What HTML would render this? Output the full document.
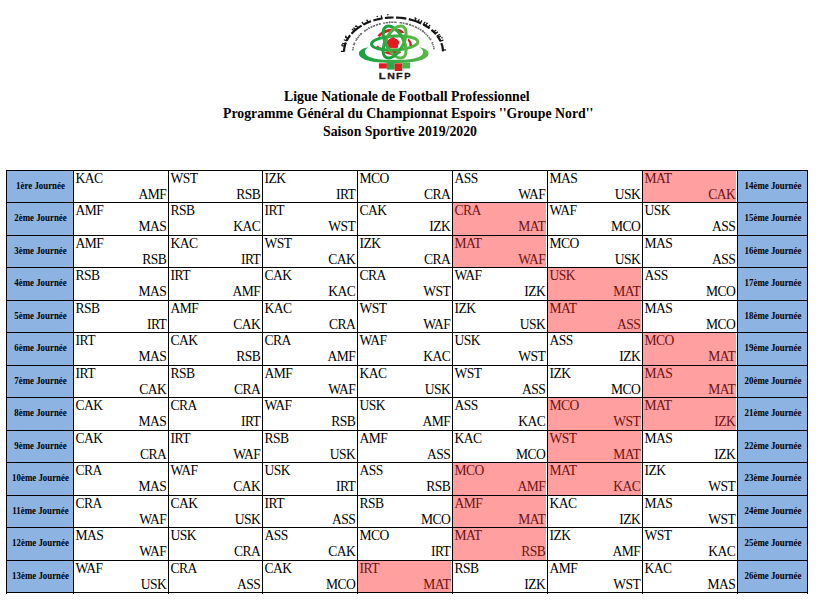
<!DOCTYPE html>
<html><head><meta charset="utf-8"><style>
html,body{margin:0;padding:0;background:#fff;}
body{width:831px;height:603px;position:relative;overflow:hidden;font-family:"Liberation Serif",serif;color:#000;}
.a{position:absolute;}
.t{position:absolute;white-space:nowrap;font-weight:bold;font-size:14.6px;line-height:0;transform:scaleX(0.945);transform-origin:0 0;}
.c{position:absolute;white-space:nowrap;font-size:13.55px;line-height:0;letter-spacing:-0.5px;}
.r{text-align:right;}
.l{position:absolute;white-space:nowrap;font-weight:bold;font-size:10px;line-height:0;text-align:center;transform:scaleX(0.885);}
.hl{position:absolute;height:1px;background:#000;}
.vl{position:absolute;width:1px;background:#000;}
.pk{background:#ff9f9f;}
.bl{background:#8db3e2;}
.pt{color:#6e1212;}
</style></head><body>
<svg class="a" style="left:335px;top:5px" width="120" height="80" viewBox="335 5 120 80">
<defs>
<linearGradient id="gr" x1="0" y1="0" x2="1" y2="0"><stop offset="0" stop-color="#13a03c"/><stop offset="1" stop-color="#5fb946"/></linearGradient>
<linearGradient id="gr2" x1="0" y1="0" x2="1" y2="0"><stop offset="0" stop-color="#17a040"/><stop offset="1" stop-color="#5cb648"/></linearGradient>
</defs>
<g fill="none" stroke="#151515" stroke-linecap="butt"><path d="M344.01,51.40 L344.07,50.11 L344.21,48.82 L344.42,47.54 L344.69,46.26 L345.03,45.00 L345.44,43.74 L345.92,42.49" stroke-width="2.2"/><path d="M344.51,51.41 L340.91,51.34" stroke-width="1.3"/><path d="M345.20,46.28 L341.65,45.68" stroke-width="1.3"/><path d="M345.79,44.24 L342.29,43.42" stroke-width="1.3"/><circle cx="342.06" cy="44.89" r="0.8" stroke="none" fill="#151515"/><path d="M346.70,40.77 L347.29,39.64 L347.94,38.52 L348.64,37.42 L349.40,36.34 L350.21,35.27" stroke-width="2.2"/><path d="M347.17,40.93 L343.77,39.76" stroke-width="1.3"/><path d="M348.45,38.63 L345.14,37.22" stroke-width="1.3"/><circle cx="345.86" cy="36.42" r="0.8" stroke="none" fill="#151515"/><path d="M351.52,33.72 L352.46,32.71 L353.45,31.72 L354.49,30.76 L355.58,29.82 L356.71,28.91 L357.89,28.03 L359.11,27.18 L360.38,26.36 L361.68,25.57" stroke-width="2.2"/><path d="M354.72,31.22 L351.87,29.02" stroke-width="1.3"/><path d="M356.19,29.96 L353.45,27.63" stroke-width="1.3"/><path d="M358.57,28.15 L356.01,25.63" stroke-width="1.3"/><circle cx="355.57" cy="26.20" r="0.8" stroke="none" fill="#151515"/><path d="M363.71,24.45 L365.11,23.74 L366.54,23.07 L368.01,22.43 L369.50,21.83 L371.03,21.26" stroke-width="2.2"/><path d="M364.01,24.85 L361.84,21.97" stroke-width="1.3"/><path d="M368.46,22.77 L366.62,19.68" stroke-width="1.3"/><path d="M373.37,20.48 L375.12,19.97 L376.90,19.50 L378.70,19.08 L380.52,18.71 L382.36,18.38" stroke-width="2.2"/><path d="M382.06,18.94 L381.22,15.44" stroke-width="1.3"/><circle cx="377.30" cy="16.43" r="0.8" stroke="none" fill="#151515"/><path d="M384.90,18.02 L386.61,17.84 L388.33,17.69 L390.05,17.58 L391.77,17.52 L393.50,17.50" stroke-width="2.2"/><circle cx="387.87" cy="14.82" r="0.8" stroke="none" fill="#151515"/><path d="M396.09,17.55 L397.81,17.63 L399.53,17.76 L401.24,17.92 L402.95,18.13 L404.64,18.38 L406.31,18.68" stroke-width="2.2"/><path d="M408.80,19.19 L410.43,19.58 L412.04,20.01 L413.63,20.48 L415.20,20.99 L416.74,21.54 L418.25,22.12 L419.73,22.74 L421.18,23.40" stroke-width="2.2"/><path d="M414.64,21.33 L416.19,18.08" stroke-width="1.3"/><path d="M417.55,22.38 L419.32,19.24" stroke-width="1.3"/><path d="M420.06,23.43 L422.01,20.40" stroke-width="1.3"/><circle cx="415.14" cy="17.94" r="0.8" stroke="none" fill="#151515"/><path d="M423.29,24.45 L424.65,25.19 L425.97,25.96 L427.26,26.77 L428.50,27.60 L429.70,28.47" stroke-width="2.2"/><path d="M422.99,24.85 L425.16,21.97" stroke-width="1.3"/><path d="M424.99,25.95 L427.31,23.19" stroke-width="1.3"/><path d="M427.68,27.64 L430.20,25.06" stroke-width="1.3"/><circle cx="426.97" cy="23.22" r="0.8" stroke="none" fill="#151515"/><path d="M431.42,29.82 L432.64,30.88 L433.80,31.97 L434.90,33.08 L435.93,34.23" stroke-width="2.2"/><path d="M433.26,32.12 L436.18,30.02" stroke-width="1.3"/><path d="M434.85,33.76 L437.89,31.83" stroke-width="1.3"/><path d="M437.21,35.80 L437.99,36.88 L438.72,37.97 L439.40,39.08 L440.01,40.20 L440.58,41.34" stroke-width="2.2"/><path d="M436.76,36.04 L439.94,34.35" stroke-width="1.3"/><path d="M437.86,37.55 L441.11,36.02" stroke-width="1.3"/><path d="M439.97,41.21 L443.38,40.07" stroke-width="1.3"/><circle cx="442.01" cy="37.86" r="0.8" stroke="none" fill="#151515"/><path d="M441.31,43.07 L441.73,44.24 L442.09,45.42 L442.39,46.60 L442.63,47.80 L442.81,48.99 L442.93,50.19 L442.99,51.40" stroke-width="2.2"/><path d="M442.42,50.10 L446.02,49.89" stroke-width="1.3"/></g>
<g fill="none" stroke="#6a6a6a"><path d="M352.86,50.45 L352.95,49.48 L353.08,48.51" stroke-width="1.5"/><path d="M353.16,48.04 L353.28,47.47 L353.40,46.91" stroke-width="1.5"/><path d="M353.84,45.31 L354.05,44.70 L354.27,44.10" stroke-width="1.5"/><path d="M354.53,44.83 L352.79,44.39" stroke-width="0.9"/><path d="M354.39,43.78 L354.59,43.28 L354.81,42.79" stroke-width="1.5"/><path d="M355.07,43.43 L353.35,42.90" stroke-width="0.9"/><path d="M355.71,40.97 L355.99,40.48 L356.27,39.99" stroke-width="1.5"/><path d="M356.48,39.65 L356.86,39.06 L357.26,38.48" stroke-width="1.5"/><path d="M357.31,39.28 L355.69,38.50" stroke-width="0.9"/><path d="M357.49,38.16 L358.12,37.32 L358.79,36.50" stroke-width="1.5"/><path d="M359.16,36.06 L359.58,35.59 L360.01,35.12" stroke-width="1.5"/><path d="M359.99,35.87 L358.49,34.87" stroke-width="0.9"/><path d="M360.34,34.78 L361.11,34.02 L361.91,33.27" stroke-width="1.5"/><path d="M361.51,34.32 L360.08,33.23" stroke-width="0.9"/><path d="M364.22,31.37 L364.99,30.81 L365.77,30.26" stroke-width="1.5"/><path d="M365.34,31.16 L364.08,29.88" stroke-width="0.9"/><path d="M366.10,30.04 L366.91,29.52 L367.74,29.01" stroke-width="1.5"/><path d="M368.38,28.63 L369.09,28.23 L369.81,27.85" stroke-width="1.5"/><path d="M369.39,28.63 L368.31,27.19" stroke-width="0.9"/><path d="M370.52,27.49 L371.43,27.05 L372.35,26.62" stroke-width="1.5"/><path d="M372.83,26.42 L373.95,25.95 L375.08,25.51" stroke-width="1.5"/><path d="M375.88,25.23 L377.05,24.83 L378.24,24.47" stroke-width="1.5"/><path d="M378.91,24.27 L379.81,24.03 L380.72,23.80" stroke-width="1.5"/><path d="M379.98,24.50 L379.37,22.81" stroke-width="0.9"/><path d="M383.15,23.28 L384.01,23.12 L384.89,22.97" stroke-width="1.5"/><path d="M385.55,22.87 L386.90,22.69 L388.27,22.55" stroke-width="1.5"/><path d="M388.89,22.49 L389.76,22.43 L390.62,22.37" stroke-width="1.5"/><path d="M389.80,22.92 L389.64,21.13" stroke-width="0.9"/><path d="M391.16,22.35 L392.32,22.31 L393.47,22.30" stroke-width="1.5"/><path d="M394.17,22.30 L395.34,22.33 L396.51,22.38" stroke-width="1.5"/><path d="M399.56,22.63 L400.90,22.80 L402.23,22.99" stroke-width="1.5"/><path d="M402.91,23.10 L403.72,23.25 L404.53,23.41" stroke-width="1.5"/><path d="M405.38,23.59 L406.71,23.91 L408.03,24.26" stroke-width="1.5"/><path d="M406.55,24.38 L407.13,22.68" stroke-width="0.9"/><path d="M408.92,24.51 L410.05,24.87 L411.16,25.24" stroke-width="1.5"/><path d="M409.85,25.32 L410.58,23.68" stroke-width="0.9"/><path d="M411.62,25.41 L412.82,25.86 L414.00,26.34" stroke-width="1.5"/><path d="M414.77,26.68 L415.96,27.23 L417.12,27.81" stroke-width="1.5"/><path d="M417.71,28.13 L418.35,28.48 L418.99,28.84" stroke-width="1.5"/><path d="M418.05,28.88 L419.15,27.45" stroke-width="0.9"/><path d="M419.60,29.21 L420.42,29.73 L421.23,30.26" stroke-width="1.5"/><path d="M421.90,30.72 L422.81,31.39 L423.69,32.09" stroke-width="1.5"/><path d="M422.45,31.74 L423.75,30.49" stroke-width="0.9"/><path d="M424.09,32.41 L424.66,32.90 L425.22,33.39" stroke-width="1.5"/><path d="M425.63,33.77 L426.12,34.24 L426.60,34.71" stroke-width="1.5"/><path d="M426.99,35.12 L427.62,35.80 L428.22,36.50" stroke-width="1.5"/><path d="M428.70,37.09 L429.23,37.77 L429.72,38.46" stroke-width="1.5"/><path d="M429.92,38.74 L430.37,39.42 L430.79,40.10" stroke-width="1.5"/><path d="M429.91,39.63 L431.54,38.87" stroke-width="0.9"/><path d="M431.98,42.32 L432.24,42.89 L432.49,43.47" stroke-width="1.5"/><path d="M431.76,43.05 L433.48,42.49" stroke-width="0.9"/><path d="M432.69,43.99 L432.94,44.66 L433.16,45.32" stroke-width="1.5"/><path d="M433.35,45.95 L433.50,46.51 L433.64,47.07" stroke-width="1.5"/><path d="M433.73,47.49 L433.90,48.40 L434.03,49.32" stroke-width="1.5"/></g>

<polygon points="392.9,37.2 398.8,41.3 397.2,47.8 388.8,47.8 387,41.3" fill="#e01b22" stroke="#e01b22" stroke-width="1" stroke-linejoin="round"/>
<path d="M377.5,35.5 Q383,29 392,28.5 L391,31.5 Q384,32.5 379.5,37 Z" fill="#e01b22"/>
<path d="M398,28.8 Q402,29.5 404.5,32.5 L401.5,33.5 Q399.5,32 397.5,31.5 Z" fill="#e01b22"/>
<path d="M408.5,38.5 Q412.5,41.5 412,47.5 L409.5,46.5 Q409.5,42 407.5,40 Z" fill="#e01b22"/>
<path d="M376.3,46.5 Q378.5,50 382,51 L381.5,48 Q379,47 377.8,45.5 Z" fill="#e01b22"/>
<path d="M385.5,52.5 Q392.5,50.5 399.5,52.5 Q392.5,56 385.5,52.5 Z" fill="#e01b22" stroke="#e01b22" stroke-width="1.4"/>


<g fill="none" stroke="url(#gr)" stroke-width="3">
<ellipse cx="394.7" cy="43" rx="23.2" ry="7" transform="rotate(-3 394.7 43)"/>
<ellipse cx="394.6" cy="42" rx="17.6" ry="8.8" transform="rotate(61 394.6 42)"/>
<ellipse cx="394.6" cy="42" rx="17.6" ry="8.8" transform="rotate(-61 394.6 42)"/>
</g>

<path d="M368.5,47.2 C361,48.5 357,52 359.8,56 C364,62 380,63 394,63 C408,63 423,62 427.8,56 C430.5,52 426.5,48.5 419,47.2 C424.5,50 424.5,54 419,57 C410,60.5 401,59.8 394,59.8 C387,59.8 378,60.5 369.5,57 C363.5,54 363.5,50 368.5,47.2 Z" fill="url(#gr2)"/>

<rect x="378.9" y="63.3" width="8" height="5.2" fill="#e01b22"/>
<rect x="386.9" y="62.5" width="7.8" height="7.1" fill="#2aa84a"/>
<rect x="394.7" y="63.3" width="7.5" height="7.7" fill="#e01b22"/>
<rect x="402.2" y="62.5" width="8" height="6" fill="#4cb448"/>
<g font-family="Liberation Sans" font-weight="bold" font-size="8.8" fill="#1a1a1a" stroke="#1a1a1a" stroke-width="0.3"><text transform="translate(378.8,78.5) scale(1.28,1)">L</text><text transform="translate(387.3,78.5) scale(1.2,1)">N</text><text transform="translate(396,78.5) scale(1.22,1)">F</text><text transform="translate(404.3,78.5) scale(1.08,1)">P</text></g>

</svg>
<div class="t" style="left:284.1px;top:95.77px">Ligue Nationale de Football Professionnel</div>
<div class="t" style="left:222.6px;top:112.82px">Programme G&eacute;n&eacute;ral du Championnat Espoirs &#39;&#39;Groupe Nord&#39;&#39;</div>
<div class="t" style="left:323.1px;top:130.77px">Saison Sportive 2019/2020</div>
<div class="a bl" style="left:6px;top:170px;width:67px;height:32px"></div><div class="a bl" style="left:737px;top:170px;width:70px;height:32px"></div><div class="a pk" style="left:642px;top:170px;width:94px;height:32px"></div><div class="a bl" style="left:6px;top:202px;width:67px;height:33px"></div><div class="a bl" style="left:737px;top:202px;width:70px;height:33px"></div><div class="a pk" style="left:452px;top:202px;width:94px;height:33px"></div><div class="a bl" style="left:6px;top:235px;width:67px;height:32px"></div><div class="a bl" style="left:737px;top:235px;width:70px;height:32px"></div><div class="a pk" style="left:452px;top:235px;width:94px;height:32px"></div><div class="a bl" style="left:6px;top:267px;width:67px;height:33px"></div><div class="a bl" style="left:737px;top:267px;width:70px;height:33px"></div><div class="a pk" style="left:547px;top:267px;width:94px;height:33px"></div><div class="a bl" style="left:6px;top:300px;width:67px;height:32px"></div><div class="a bl" style="left:737px;top:300px;width:70px;height:32px"></div><div class="a pk" style="left:547px;top:300px;width:94px;height:32px"></div><div class="a bl" style="left:6px;top:332px;width:67px;height:33px"></div><div class="a bl" style="left:737px;top:332px;width:70px;height:33px"></div><div class="a pk" style="left:642px;top:332px;width:94px;height:33px"></div><div class="a bl" style="left:6px;top:365px;width:67px;height:32px"></div><div class="a bl" style="left:737px;top:365px;width:70px;height:32px"></div><div class="a pk" style="left:642px;top:365px;width:94px;height:32px"></div><div class="a bl" style="left:6px;top:397px;width:67px;height:33px"></div><div class="a bl" style="left:737px;top:397px;width:70px;height:33px"></div><div class="a pk" style="left:547px;top:397px;width:94px;height:33px"></div><div class="a pk" style="left:642px;top:397px;width:94px;height:33px"></div><div class="a bl" style="left:6px;top:430px;width:67px;height:32px"></div><div class="a bl" style="left:737px;top:430px;width:70px;height:32px"></div><div class="a pk" style="left:547px;top:430px;width:94px;height:32px"></div><div class="a bl" style="left:6px;top:462px;width:67px;height:33px"></div><div class="a bl" style="left:737px;top:462px;width:70px;height:33px"></div><div class="a pk" style="left:452px;top:462px;width:94px;height:33px"></div><div class="a pk" style="left:547px;top:462px;width:94px;height:33px"></div><div class="a bl" style="left:6px;top:495px;width:67px;height:32px"></div><div class="a bl" style="left:737px;top:495px;width:70px;height:32px"></div><div class="a pk" style="left:452px;top:495px;width:94px;height:32px"></div><div class="a bl" style="left:6px;top:527px;width:67px;height:33px"></div><div class="a bl" style="left:737px;top:527px;width:70px;height:33px"></div><div class="a pk" style="left:452px;top:527px;width:94px;height:33px"></div><div class="a bl" style="left:6px;top:560px;width:67px;height:32px"></div><div class="a bl" style="left:737px;top:560px;width:70px;height:32px"></div><div class="a pk" style="left:357px;top:560px;width:94px;height:32px"></div>
<div class="l" style="left:6.6px;width:67px;top:185.53px">1&egrave;re Journ&eacute;e</div><div class="l" style="left:737.6px;width:70px;top:185.53px">14&egrave;me Journ&eacute;e</div><div class="c" style="left:75.5px;top:178.83px">KAC</div><div class="c r" style="right:664.6px;top:195.03px">AMF</div><div class="c" style="left:170.5px;top:178.83px">WST</div><div class="c r" style="right:570.6px;top:195.03px">RSB</div><div class="c" style="left:264.5px;top:178.83px">IZK</div><div class="c r" style="right:475.6px;top:195.03px">IRT</div><div class="c" style="left:359.5px;top:178.83px">MCO</div><div class="c r" style="right:380.6px;top:195.03px">CRA</div><div class="c" style="left:454.5px;top:178.83px">ASS</div><div class="c r" style="right:285.6px;top:195.03px">WAF</div><div class="c" style="left:549.5px;top:178.83px">MAS</div><div class="c r" style="right:190.60000000000002px;top:195.03px">USK</div><div class="c pt" style="left:644.5px;top:178.83px">MAT</div><div class="c r pt" style="right:95.60000000000002px;top:195.03px">CAK</div>
<div class="l" style="left:6.6px;width:67px;top:217.53px">2&egrave;me Journ&eacute;e</div><div class="l" style="left:737.6px;width:70px;top:217.53px">15&egrave;me Journ&eacute;e</div><div class="c" style="left:75.5px;top:210.83px">AMF</div><div class="c r" style="right:664.6px;top:227.03px">MAS</div><div class="c" style="left:170.5px;top:210.83px">RSB</div><div class="c r" style="right:570.6px;top:227.03px">KAC</div><div class="c" style="left:264.5px;top:210.83px">IRT</div><div class="c r" style="right:475.6px;top:227.03px">WST</div><div class="c" style="left:359.5px;top:210.83px">CAK</div><div class="c r" style="right:380.6px;top:227.03px">IZK</div><div class="c pt" style="left:454.5px;top:210.83px">CRA</div><div class="c r pt" style="right:285.6px;top:227.03px">MAT</div><div class="c" style="left:549.5px;top:210.83px">WAF</div><div class="c r" style="right:190.60000000000002px;top:227.03px">MCO</div><div class="c" style="left:644.5px;top:210.83px">USK</div><div class="c r" style="right:95.60000000000002px;top:227.03px">ASS</div>
<div class="l" style="left:6.6px;width:67px;top:250.53px">3&egrave;me Journ&eacute;e</div><div class="l" style="left:737.6px;width:70px;top:250.53px">16&egrave;me Journ&eacute;e</div><div class="c" style="left:75.5px;top:243.83px">AMF</div><div class="c r" style="right:664.6px;top:260.03px">RSB</div><div class="c" style="left:170.5px;top:243.83px">KAC</div><div class="c r" style="right:570.6px;top:260.03px">IRT</div><div class="c" style="left:264.5px;top:243.83px">WST</div><div class="c r" style="right:475.6px;top:260.03px">CAK</div><div class="c" style="left:359.5px;top:243.83px">IZK</div><div class="c r" style="right:380.6px;top:260.03px">CRA</div><div class="c pt" style="left:454.5px;top:243.83px">MAT</div><div class="c r pt" style="right:285.6px;top:260.03px">WAF</div><div class="c" style="left:549.5px;top:243.83px">MCO</div><div class="c r" style="right:190.60000000000002px;top:260.03px">USK</div><div class="c" style="left:644.5px;top:243.83px">MAS</div><div class="c r" style="right:95.60000000000002px;top:260.03px">ASS</div>
<div class="l" style="left:6.6px;width:67px;top:282.52px">4&egrave;me Journ&eacute;e</div><div class="l" style="left:737.6px;width:70px;top:282.52px">17&egrave;me Journ&eacute;e</div><div class="c" style="left:75.5px;top:275.83px">RSB</div><div class="c r" style="right:664.6px;top:292.03px">MAS</div><div class="c" style="left:170.5px;top:275.83px">IRT</div><div class="c r" style="right:570.6px;top:292.03px">AMF</div><div class="c" style="left:264.5px;top:275.83px">CAK</div><div class="c r" style="right:475.6px;top:292.03px">KAC</div><div class="c" style="left:359.5px;top:275.83px">CRA</div><div class="c r" style="right:380.6px;top:292.03px">WST</div><div class="c" style="left:454.5px;top:275.83px">WAF</div><div class="c r" style="right:285.6px;top:292.03px">IZK</div><div class="c pt" style="left:549.5px;top:275.83px">USK</div><div class="c r pt" style="right:190.60000000000002px;top:292.03px">MAT</div><div class="c" style="left:644.5px;top:275.83px">ASS</div><div class="c r" style="right:95.60000000000002px;top:292.03px">MCO</div>
<div class="l" style="left:6.6px;width:67px;top:315.52px">5&egrave;me Journ&eacute;e</div><div class="l" style="left:737.6px;width:70px;top:315.52px">18&egrave;me Journ&eacute;e</div><div class="c" style="left:75.5px;top:308.83px">RSB</div><div class="c r" style="right:664.6px;top:325.03px">IRT</div><div class="c" style="left:170.5px;top:308.83px">AMF</div><div class="c r" style="right:570.6px;top:325.03px">CAK</div><div class="c" style="left:264.5px;top:308.83px">KAC</div><div class="c r" style="right:475.6px;top:325.03px">CRA</div><div class="c" style="left:359.5px;top:308.83px">WST</div><div class="c r" style="right:380.6px;top:325.03px">WAF</div><div class="c" style="left:454.5px;top:308.83px">IZK</div><div class="c r" style="right:285.6px;top:325.03px">USK</div><div class="c pt" style="left:549.5px;top:308.83px">MAT</div><div class="c r pt" style="right:190.60000000000002px;top:325.03px">ASS</div><div class="c" style="left:644.5px;top:308.83px">MAS</div><div class="c r" style="right:95.60000000000002px;top:325.03px">MCO</div>
<div class="l" style="left:6.6px;width:67px;top:347.52px">6&egrave;me Journ&eacute;e</div><div class="l" style="left:737.6px;width:70px;top:347.52px">19&egrave;me Journ&eacute;e</div><div class="c" style="left:75.5px;top:340.83px">IRT</div><div class="c r" style="right:664.6px;top:357.03px">MAS</div><div class="c" style="left:170.5px;top:340.83px">CAK</div><div class="c r" style="right:570.6px;top:357.03px">RSB</div><div class="c" style="left:264.5px;top:340.83px">CRA</div><div class="c r" style="right:475.6px;top:357.03px">AMF</div><div class="c" style="left:359.5px;top:340.83px">WAF</div><div class="c r" style="right:380.6px;top:357.03px">KAC</div><div class="c" style="left:454.5px;top:340.83px">USK</div><div class="c r" style="right:285.6px;top:357.03px">WST</div><div class="c" style="left:549.5px;top:340.83px">ASS</div><div class="c r" style="right:190.60000000000002px;top:357.03px">IZK</div><div class="c pt" style="left:644.5px;top:340.83px">MCO</div><div class="c r pt" style="right:95.60000000000002px;top:357.03px">MAT</div>
<div class="l" style="left:6.6px;width:67px;top:380.52px">7&egrave;me Journ&eacute;e</div><div class="l" style="left:737.6px;width:70px;top:380.52px">20&egrave;me Journ&eacute;e</div><div class="c" style="left:75.5px;top:373.83px">IRT</div><div class="c r" style="right:664.6px;top:390.03px">CAK</div><div class="c" style="left:170.5px;top:373.83px">RSB</div><div class="c r" style="right:570.6px;top:390.03px">CRA</div><div class="c" style="left:264.5px;top:373.83px">AMF</div><div class="c r" style="right:475.6px;top:390.03px">WAF</div><div class="c" style="left:359.5px;top:373.83px">KAC</div><div class="c r" style="right:380.6px;top:390.03px">USK</div><div class="c" style="left:454.5px;top:373.83px">WST</div><div class="c r" style="right:285.6px;top:390.03px">ASS</div><div class="c" style="left:549.5px;top:373.83px">IZK</div><div class="c r" style="right:190.60000000000002px;top:390.03px">MCO</div><div class="c pt" style="left:644.5px;top:373.83px">MAS</div><div class="c r pt" style="right:95.60000000000002px;top:390.03px">MAT</div>
<div class="l" style="left:6.6px;width:67px;top:412.52px">8&egrave;me Journ&eacute;e</div><div class="l" style="left:737.6px;width:70px;top:412.52px">21&egrave;me Journ&eacute;e</div><div class="c" style="left:75.5px;top:405.83px">CAK</div><div class="c r" style="right:664.6px;top:422.03px">MAS</div><div class="c" style="left:170.5px;top:405.83px">CRA</div><div class="c r" style="right:570.6px;top:422.03px">IRT</div><div class="c" style="left:264.5px;top:405.83px">WAF</div><div class="c r" style="right:475.6px;top:422.03px">RSB</div><div class="c" style="left:359.5px;top:405.83px">USK</div><div class="c r" style="right:380.6px;top:422.03px">AMF</div><div class="c" style="left:454.5px;top:405.83px">ASS</div><div class="c r" style="right:285.6px;top:422.03px">KAC</div><div class="c pt" style="left:549.5px;top:405.83px">MCO</div><div class="c r pt" style="right:190.60000000000002px;top:422.03px">WST</div><div class="c pt" style="left:644.5px;top:405.83px">MAT</div><div class="c r pt" style="right:95.60000000000002px;top:422.03px">IZK</div>
<div class="l" style="left:6.6px;width:67px;top:445.52px">9&egrave;me Journ&eacute;e</div><div class="l" style="left:737.6px;width:70px;top:445.52px">22&egrave;me Journ&eacute;e</div><div class="c" style="left:75.5px;top:438.83px">CAK</div><div class="c r" style="right:664.6px;top:455.03px">CRA</div><div class="c" style="left:170.5px;top:438.83px">IRT</div><div class="c r" style="right:570.6px;top:455.03px">WAF</div><div class="c" style="left:264.5px;top:438.83px">RSB</div><div class="c r" style="right:475.6px;top:455.03px">USK</div><div class="c" style="left:359.5px;top:438.83px">AMF</div><div class="c r" style="right:380.6px;top:455.03px">ASS</div><div class="c" style="left:454.5px;top:438.83px">KAC</div><div class="c r" style="right:285.6px;top:455.03px">MCO</div><div class="c pt" style="left:549.5px;top:438.83px">WST</div><div class="c r pt" style="right:190.60000000000002px;top:455.03px">MAT</div><div class="c" style="left:644.5px;top:438.83px">MAS</div><div class="c r" style="right:95.60000000000002px;top:455.03px">IZK</div>
<div class="l" style="left:6.6px;width:67px;top:477.52px">10&egrave;me Journ&eacute;e</div><div class="l" style="left:737.6px;width:70px;top:477.52px">23&egrave;me Journ&eacute;e</div><div class="c" style="left:75.5px;top:470.83px">CRA</div><div class="c r" style="right:664.6px;top:487.03px">MAS</div><div class="c" style="left:170.5px;top:470.83px">WAF</div><div class="c r" style="right:570.6px;top:487.03px">CAK</div><div class="c" style="left:264.5px;top:470.83px">USK</div><div class="c r" style="right:475.6px;top:487.03px">IRT</div><div class="c" style="left:359.5px;top:470.83px">ASS</div><div class="c r" style="right:380.6px;top:487.03px">RSB</div><div class="c pt" style="left:454.5px;top:470.83px">MCO</div><div class="c r pt" style="right:285.6px;top:487.03px">AMF</div><div class="c pt" style="left:549.5px;top:470.83px">MAT</div><div class="c r pt" style="right:190.60000000000002px;top:487.03px">KAC</div><div class="c" style="left:644.5px;top:470.83px">IZK</div><div class="c r" style="right:95.60000000000002px;top:487.03px">WST</div>
<div class="l" style="left:6.6px;width:67px;top:510.52px">11&egrave;me Journ&eacute;e</div><div class="l" style="left:737.6px;width:70px;top:510.52px">24&egrave;me Journ&eacute;e</div><div class="c" style="left:75.5px;top:503.83px">CRA</div><div class="c r" style="right:664.6px;top:520.03px">WAF</div><div class="c" style="left:170.5px;top:503.83px">CAK</div><div class="c r" style="right:570.6px;top:520.03px">USK</div><div class="c" style="left:264.5px;top:503.83px">IRT</div><div class="c r" style="right:475.6px;top:520.03px">ASS</div><div class="c" style="left:359.5px;top:503.83px">RSB</div><div class="c r" style="right:380.6px;top:520.03px">MCO</div><div class="c pt" style="left:454.5px;top:503.83px">AMF</div><div class="c r pt" style="right:285.6px;top:520.03px">MAT</div><div class="c" style="left:549.5px;top:503.83px">KAC</div><div class="c r" style="right:190.60000000000002px;top:520.03px">IZK</div><div class="c" style="left:644.5px;top:503.83px">MAS</div><div class="c r" style="right:95.60000000000002px;top:520.03px">WST</div>
<div class="l" style="left:6.6px;width:67px;top:542.52px">12&egrave;me Journ&eacute;e</div><div class="l" style="left:737.6px;width:70px;top:542.52px">25&egrave;me Journ&eacute;e</div><div class="c" style="left:75.5px;top:535.83px">MAS</div><div class="c r" style="right:664.6px;top:552.03px">WAF</div><div class="c" style="left:170.5px;top:535.83px">USK</div><div class="c r" style="right:570.6px;top:552.03px">CRA</div><div class="c" style="left:264.5px;top:535.83px">ASS</div><div class="c r" style="right:475.6px;top:552.03px">CAK</div><div class="c" style="left:359.5px;top:535.83px">MCO</div><div class="c r" style="right:380.6px;top:552.03px">IRT</div><div class="c pt" style="left:454.5px;top:535.83px">MAT</div><div class="c r pt" style="right:285.6px;top:552.03px">RSB</div><div class="c" style="left:549.5px;top:535.83px">IZK</div><div class="c r" style="right:190.60000000000002px;top:552.03px">AMF</div><div class="c" style="left:644.5px;top:535.83px">WST</div><div class="c r" style="right:95.60000000000002px;top:552.03px">KAC</div>
<div class="l" style="left:6.6px;width:67px;top:575.52px">13&egrave;me Journ&eacute;e</div><div class="l" style="left:737.6px;width:70px;top:575.52px">26&egrave;me Journ&eacute;e</div><div class="c" style="left:75.5px;top:568.83px">WAF</div><div class="c r" style="right:664.6px;top:585.03px">USK</div><div class="c" style="left:170.5px;top:568.83px">CRA</div><div class="c r" style="right:570.6px;top:585.03px">ASS</div><div class="c" style="left:264.5px;top:568.83px">CAK</div><div class="c r" style="right:475.6px;top:585.03px">MCO</div><div class="c pt" style="left:359.5px;top:568.83px">IRT</div><div class="c r pt" style="right:380.6px;top:585.03px">MAT</div><div class="c" style="left:454.5px;top:568.83px">RSB</div><div class="c r" style="right:285.6px;top:585.03px">IZK</div><div class="c" style="left:549.5px;top:568.83px">AMF</div><div class="c r" style="right:190.60000000000002px;top:585.03px">WST</div><div class="c" style="left:644.5px;top:568.83px">KAC</div><div class="c r" style="right:95.60000000000002px;top:585.03px">MAS</div>
<div class="hl" style="left:6px;top:170px;width:802px"></div><div class="hl" style="left:6px;top:202px;width:802px"></div><div class="hl" style="left:6px;top:235px;width:802px"></div><div class="hl" style="left:6px;top:267px;width:802px"></div><div class="hl" style="left:6px;top:300px;width:802px"></div><div class="hl" style="left:6px;top:332px;width:802px"></div><div class="hl" style="left:6px;top:365px;width:802px"></div><div class="hl" style="left:6px;top:397px;width:802px"></div><div class="hl" style="left:6px;top:430px;width:802px"></div><div class="hl" style="left:6px;top:462px;width:802px"></div><div class="hl" style="left:6px;top:495px;width:802px"></div><div class="hl" style="left:6px;top:527px;width:802px"></div><div class="hl" style="left:6px;top:560px;width:802px"></div><div class="hl" style="left:6px;top:592px;width:802px"></div><div class="vl" style="left:6px;top:170px;height:424px"></div><div class="vl" style="left:73px;top:170px;height:424px"></div><div class="vl" style="left:168px;top:170px;height:424px"></div><div class="vl" style="left:262px;top:170px;height:424px"></div><div class="vl" style="left:357px;top:170px;height:424px"></div><div class="vl" style="left:452px;top:170px;height:424px"></div><div class="vl" style="left:547px;top:170px;height:424px"></div><div class="vl" style="left:642px;top:170px;height:424px"></div><div class="vl" style="left:737px;top:170px;height:424px"></div><div class="vl" style="left:807px;top:170px;height:424px"></div>
</body></html>
